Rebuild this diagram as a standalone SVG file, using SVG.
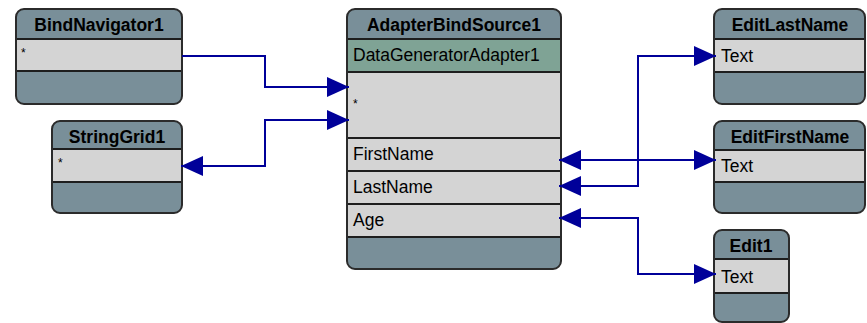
<svg xmlns="http://www.w3.org/2000/svg" width="867" height="323" viewBox="0 0 867 323">
<defs>
<style>
.hdr{fill:#798f99}
.row{fill:#d4d4d4}
.grn{fill:#7fa395}
.frame{fill:none;stroke:#2b2b2b;stroke-width:2}
.sep{stroke:#1e1e1e;stroke-width:2}
.title{font-family:"Liberation Sans",Arial,sans-serif;font-weight:bold;font-size:17.5px;fill:#000;text-anchor:middle}
.txt{font-family:"Liberation Sans",Arial,sans-serif;font-size:17.5px;fill:#000}
.star{font-family:"Liberation Sans",Arial,sans-serif;font-size:12px;fill:#000}
.conn{fill:none;stroke:#000099;stroke-width:2}
</style>
<marker id="ah" viewBox="0 0 22 20" refX="22" refY="10" markerWidth="22" markerHeight="20" markerUnits="userSpaceOnUse" orient="auto-start-reverse">
<path d="M0,0 L22,10 L0,20 Z" fill="#000099"/>
</marker>
<clipPath id="cBN"><rect x="16" y="9" width="166" height="95" rx="8"/></clipPath>
<clipPath id="cSG"><rect x="52" y="121" width="130" height="92" rx="8"/></clipPath>
<clipPath id="cAB"><rect x="347" y="9" width="214" height="260" rx="8"/></clipPath>
<clipPath id="cEL"><rect x="714" y="9" width="151" height="95" rx="8"/></clipPath>
<clipPath id="cEF"><rect x="714" y="121" width="151" height="92" rx="8"/></clipPath>
<clipPath id="cE1"><rect x="714" y="230" width="75" height="92" rx="8"/></clipPath>
</defs>

<g id="BindNavigator1">
<g clip-path="url(#cBN)">
<rect class="hdr" x="16" y="9" width="166" height="95"/>
<rect class="row" x="16" y="39" width="166" height="32"/>
<line class="sep" x1="16" y1="39" x2="182" y2="39"/>
<line class="sep" x1="16" y1="71" x2="182" y2="71"/>
</g>
<rect class="frame" x="16" y="9" width="166" height="95" rx="8"/>
<text class="title" x="99" y="31">BindNavigator1</text>
<text class="star" x="21" y="57">*</text>
</g>

<g id="StringGrid1">
<g clip-path="url(#cSG)">
<rect class="hdr" x="52" y="121" width="130" height="92"/>
<rect class="row" x="52" y="149" width="130" height="33"/>
<line class="sep" x1="52" y1="149" x2="182" y2="149"/>
<line class="sep" x1="52" y1="182" x2="182" y2="182"/>
</g>
<rect class="frame" x="52" y="121" width="130" height="92" rx="8"/>
<text class="title" x="117" y="143">StringGrid1</text>
<text class="star" x="58" y="167">*</text>
</g>

<g id="AdapterBindSource1">
<g clip-path="url(#cAB)">
<rect class="hdr" x="347" y="9" width="214" height="260"/>
<rect class="grn" x="347" y="39" width="214" height="33"/>
<rect class="row" x="347" y="72" width="214" height="165"/>
<line class="sep" x1="347" y1="39" x2="561" y2="39"/>
<line class="sep" x1="347" y1="72" x2="561" y2="72"/>
<line class="sep" x1="347" y1="138" x2="561" y2="138"/>
<line class="sep" x1="347" y1="171" x2="561" y2="171"/>
<line class="sep" x1="347" y1="204" x2="561" y2="204"/>
<line class="sep" x1="347" y1="237" x2="561" y2="237"/>
</g>
<rect class="frame" x="347" y="9" width="214" height="260" rx="8"/>
<text class="title" x="454" y="31">AdapterBindSource1</text>
<text class="txt" x="353" y="61">DataGeneratorAdapter1</text>
<text class="star" x="353" y="108">*</text>
<text class="txt" x="353" y="160">FirstName</text>
<text class="txt" x="353" y="193">LastName</text>
<text class="txt" x="353" y="226">Age</text>
</g>

<g id="EditLastName">
<g clip-path="url(#cEL)">
<rect class="hdr" x="714" y="9" width="151" height="95"/>
<rect class="row" x="714" y="39" width="151" height="33"/>
<line class="sep" x1="714" y1="39" x2="865" y2="39"/>
<line class="sep" x1="714" y1="72" x2="865" y2="72"/>
</g>
<rect class="frame" x="714" y="9" width="151" height="95" rx="8"/>
<text class="title" x="790" y="31">EditLastName</text>
<text class="txt" x="721" y="62">Text</text>
</g>

<g id="EditFirstName">
<g clip-path="url(#cEF)">
<rect class="hdr" x="714" y="121" width="151" height="92"/>
<rect class="row" x="714" y="150" width="151" height="32"/>
<line class="sep" x1="714" y1="150" x2="865" y2="150"/>
<line class="sep" x1="714" y1="182" x2="865" y2="182"/>
</g>
<rect class="frame" x="714" y="121" width="151" height="92" rx="8"/>
<text class="title" x="790" y="143">EditFirstName</text>
<text class="txt" x="721" y="172">Text</text>
</g>

<g id="Edit1">
<g clip-path="url(#cE1)">
<rect class="hdr" x="714" y="230" width="75" height="92"/>
<rect class="row" x="714" y="259" width="75" height="34"/>
<line class="sep" x1="714" y1="259" x2="789" y2="259"/>
<line class="sep" x1="714" y1="293" x2="789" y2="293"/>
</g>
<rect class="frame" x="714" y="230" width="75" height="92" rx="8"/>
<text class="title" x="751" y="252">Edit1</text>
<text class="txt" x="721" y="283">Text</text>
</g>

<g id="connectors">
<polyline class="conn" points="182,56 265,56 265,87 349,87" marker-end="url(#ah)"/>
<polyline class="conn" points="349,120 265,120 265,166 181,166" marker-start="url(#ah)" marker-end="url(#ah)"/>
<polyline class="conn" points="559,160 716,160" marker-start="url(#ah)" marker-end="url(#ah)"/>
<polyline class="conn" points="559,186 638,186 638,56 716,56" marker-start="url(#ah)" marker-end="url(#ah)"/>
<polyline class="conn" points="559,218 638,218 638,274 716,274" marker-start="url(#ah)" marker-end="url(#ah)"/>
</g>
</svg>
